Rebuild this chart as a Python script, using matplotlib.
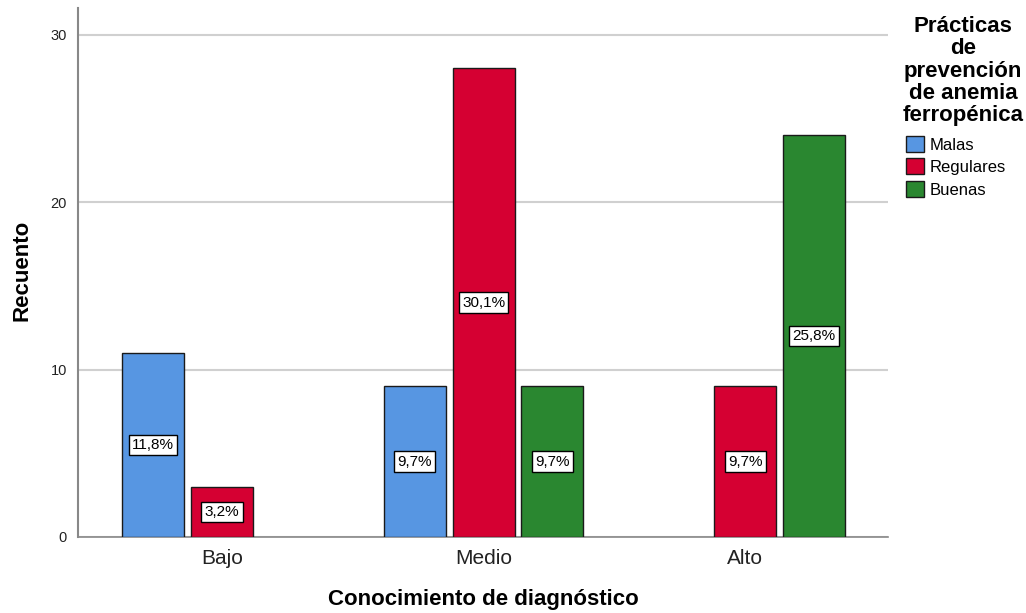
import matplotlib
matplotlib.use("Agg")
import matplotlib.pyplot as plt
import numpy as np
from matplotlib.patches import Patch

categories = ["Bajo", "Medio", "Alto"]
series = ["Malas", "Regulares", "Buenas"]
malas = [11, 9, 0]
regulares = [3, 28, 9]
buenas = [0, 9, 24]
labels_malas = ["11,8%", "9,7%", ""]
labels_regulares = ["3,2%", "30,1%", "9,7%"]
labels_buenas = ["", "9,7%", "25,8%"]
colors = ["#5796E2", "#D50032", "#2A8730"]

plt.rcParams['font.family'] = ['Liberation Sans', 'DejaVu Sans']

fig = plt.figure(figsize=(10.26, 6.13), dpi=100)
ax = fig.add_axes([78/1026, 1-537/613, (888-78)/1026, (537-8)/613])

x = np.arange(len(categories))
width = 0.237
offset = 0.263
data = [malas, regulares, buenas]
labs = [labels_malas, labels_regulares, labels_buenas]
for i, (vals, lab, col) in enumerate(zip(data, labs, colors)):
    xs = x + (i - 1) * offset
    keep = [k for k, v in enumerate(vals) if v > 0]
    ax.bar(xs[keep], [vals[k] for k in keep], width=width, color=col,
           edgecolor="#1a1a1a", linewidth=1.0, zorder=3)
    for k in keep:
        if lab[k]:
            ax.text(xs[k], vals[k] / 2, lab[k], ha="center", va="center", fontsize=11, zorder=4,
                    bbox=dict(boxstyle="square,pad=0.22", facecolor="white", edgecolor="black", linewidth=1.0))

ax.set_xlim(-0.55, 2.546)
ax.set_ylim(0, 31.6)
ax.set_yticks([0, 10, 20, 30])
ax.set_xticks(x)
ax.set_xticklabels(categories, fontsize=15, color="#222222")
ax.tick_params(axis="x", length=0, pad=9)
ax.tick_params(axis="y", length=0, pad=8, labelsize=10.5, labelcolor="#222222")
ax.yaxis.grid(True, color="#d0d0d0", linewidth=1.5, zorder=0)
ax.set_axisbelow(True)
for s in ["top", "right"]:
    ax.spines[s].set_visible(False)
ax.spines["left"].set_color("#888888")
ax.spines["bottom"].set_color("#888888")
ax.spines["left"].set_linewidth(1.5)
ax.spines["bottom"].set_linewidth(1.2)

fig.text(22/1026, 1-270/613, "Recuento", rotation=90, ha="center", va="center",
         fontsize=16, fontweight="bold")
fig.text(483/1026, 1-599/613, "Conocimiento de diagnóstico", ha="center", va="center",
         fontsize=16, fontweight="bold")

fig.text(963/1026, 1-16/613, "Prácticas\nde\nprevención\nde anemia\nferropénica",
         ha="center", va="top", multialignment="center", fontsize=16, fontweight="bold",
         linespacing=1.08)

handles = [Patch(facecolor=c, edgecolor="#1a1a1a", linewidth=1.0) for c in colors]
fig.legend(handles, series, loc="upper left", bbox_to_anchor=(906/1026, 1-136/613),
           frameon=False, fontsize=12, handlelength=1.1, handleheight=1.1,
           handletextpad=0.3, labelspacing=0.35, borderpad=0, borderaxespad=0)

fig.savefig("out.png", dpi=100)
